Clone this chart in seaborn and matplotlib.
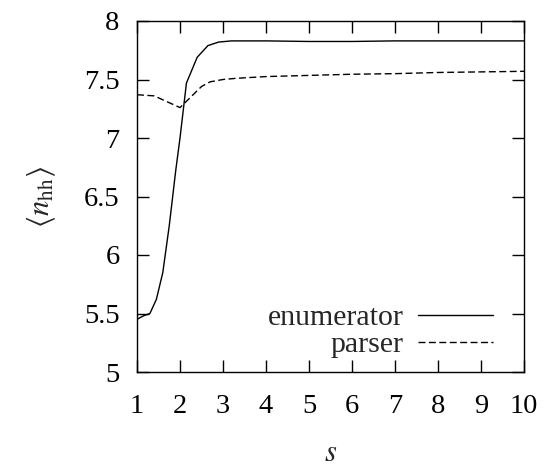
import matplotlib
matplotlib.use("Agg")
import matplotlib.pyplot as plt
import seaborn as sns
import pandas as pd

# enumerator curve
s_enum = [1.0, 1.15, 1.3, 1.45, 1.6, 1.75, 1.9, 2.0, 2.15, 2.4, 2.65, 2.9,
          3.2, 3.6, 4, 5, 6, 7, 8, 9, 10]
n_enum = [5.45, 5.48, 5.50, 5.62, 5.85, 6.25, 6.72, 7.0, 7.47, 7.69, 7.79, 7.82,
          7.83, 7.83, 7.83, 7.825, 7.825, 7.83, 7.83, 7.83, 7.83]

# parser curve
s_pars = [1.0, 1.4, 1.7, 2.0, 2.25, 2.5, 2.7, 3.0, 3.3, 4, 5, 6, 7, 8, 9, 10]
n_pars = [7.37, 7.36, 7.31, 7.26, 7.35, 7.44, 7.48, 7.50, 7.51, 7.525, 7.535,
          7.545, 7.55, 7.56, 7.565, 7.57]

yticks = [5, 5.5, 6, 6.5, 7, 7.5, 8]
ytick_labels = ["5", "5.5", "6", "6.5", "7", "7.5", "8"]

sns.set_theme(style="ticks")
plt.rcParams["font.family"] = ["Liberation Serif", "DejaVu Serif"]
plt.rcParams["mathtext.fontset"] = "stix"
plt.rcParams["font.size"] = 20

fig = plt.figure(figsize=(5.45, 4.68), dpi=100)
ax = fig.add_axes([137 / 545, 1 - 372 / 468, 387 / 545, 351 / 468])

df_enum = pd.DataFrame({"s": s_enum, "n": n_enum})
df_pars = pd.DataFrame({"s": s_pars, "n": n_pars})
sns.lineplot(data=df_enum, x="s", y="n", ax=ax, color="black", linewidth=1.0,
             label="enumerator")
sns.lineplot(data=df_pars, x="s", y="n", ax=ax, color="black", linewidth=1.0,
             label="parser")
ax.lines[1].set_dashes((5, 2.5))

ax.set_xlim(1, 10)
ax.set_ylim(5, 8)
ax.set_xticks(range(1, 11))
ax.set_yticks(yticks)
ax.set_yticklabels(ytick_labels)
ax.tick_params(direction="in", length=8.5, width=1.0, top=True, right=True,
               labelsize=20.5, colors="black")
ax.tick_params(axis="x", pad=16)
ax.tick_params(axis="y", pad=12.5)
for sp in ax.spines.values():
    sp.set_linewidth(1.0)
    sp.set_color("black")

ax.set_xlabel("$s$", fontsize=22, labelpad=14)
ax.set_ylabel(r"$\langle n_{\rm hh}\rangle$", fontsize=22, labelpad=19)

leg = ax.legend(loc="lower right", bbox_to_anchor=(0.92, 0.04), frameon=False,
                markerfirst=False, fontsize=21.5, handlelength=2.5,
                handletextpad=0.5, labelspacing=0.0, borderpad=0,
                borderaxespad=0)
# legend dashes follow the line
leg.get_lines()[1].set_dashes((5, 2.5))

fig.savefig("out.png", dpi=100)
